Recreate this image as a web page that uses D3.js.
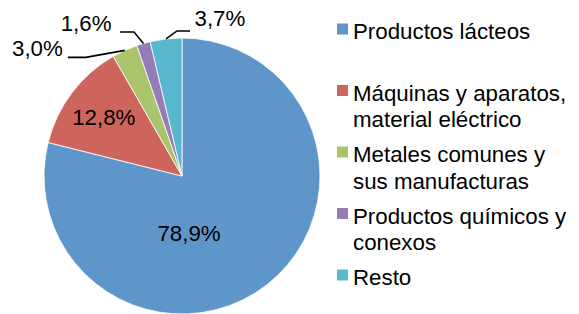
<!DOCTYPE html>
<html>
<head>
<meta charset="utf-8">
<script src="https://cdn.jsdelivr.net/npm/d3@7"></script>
<style>
  html, body { margin: 0; padding: 0; background: #fff; }
  svg { display: block; font-family: "Liberation Sans", Arial, sans-serif; }
</style>
</head>
<body>
<svg id="chart"></svg>
<script>
// data
var categories = ["Productos lácteos", "Máquinas y aparatos, material eléctrico",
  "Metales comunes y sus manufacturas", "Productos químicos y conexos", "Resto"];
var legendLines = [["Productos lácteos"], ["Máquinas y aparatos,", "material eléctrico"],
  ["Metales comunes y", "sus manufacturas"], ["Productos químicos y", "conexos"], ["Resto"]];
var shares = [78.9, 12.8, 3.0, 1.6, 3.7];
var colors = ["#5F96C9", "#CE655D", "#ABC56D", "#957CB6", "#57B8D0"];

var width = 579, height = 314,
  cx = 182, cy = 176, radius = 138,
  fontSize = 22.3;

var svg = d3.select("#chart")
  .attr("width", width)
  .attr("height", height);

var pie = d3.pie().sort(null).value(function(d) { return d; });
var arcs = pie(shares);
var arc = d3.arc().innerRadius(0).outerRadius(radius);

var g = svg.append("g").attr("transform", "translate(" + cx + "," + cy + ")");

g.selectAll("path.slice")
  .data(arcs)
  .enter()
  .append("path")
  .attr("class", "slice")
  .attr("d", arc)
  .attr("fill", function(d, i) { return colors[i]; })
  .attr("stroke", "#fff")
  .attr("stroke-width", 0.8);

function fmt(v) { return d3.format(".1f")(v).replace(".", ",") + "%"; }

// label placement: inside labels get a point on a radius fraction,
// outside labels get a leader line (elbow offset + text anchor offset)
var labelLayout = [
  { inside: true, angle: 173, r: 0.42 },
  { inside: true, r: 0.71 },
  { inside: false, elbow: [-39, 7], end: [-57, 7], text: [-62, 6], anchor: "end" },
  { inside: false, elbow: [-9.5, -11.5], end: [-23.5, -11.5], text: [-32, -12], anchor: "end" },
  { inside: false, elbow: [11, -8], end: [24, -8], text: [28.5, -13.3], anchor: "start" }
];

arcs.forEach(function(d, i) {
  var L = labelLayout[i];
  var mid = (d.startAngle + d.endAngle) / 2;
  if (L.inside) {
    var a = L.angle !== undefined ? L.angle * Math.PI / 180 : mid;
    var rr = radius * L.r;
    g.append("text")
      .attr("x", Math.sin(a) * rr)
      .attr("y", -Math.cos(a) * rr)
      .attr("dy", "0.35em")
      .attr("text-anchor", "middle")
      .attr("font-size", fontSize)
      .attr("fill", "#000")
      .text(fmt(shares[i]));
  } else {
    var px = Math.sin(mid) * radius, py = -Math.cos(mid) * radius;
    var ex = px + L.elbow[0], ey = py + L.elbow[1];
    var fx = px + L.end[0], fy = py + L.end[1];
    g.append("polyline")
      .attr("points", [[px, py], [ex, ey], [fx, fy]].map(function(p) { return p.join(","); }).join(" "))
      .attr("fill", "none")
      .attr("stroke", "#000")
      .attr("stroke-width", 1.6);
    g.append("text")
      .attr("x", px + L.text[0])
      .attr("y", py + L.text[1])
      .attr("text-anchor", L.anchor)
      .attr("font-size", fontSize)
      .attr("fill", "#000")
      .text(fmt(shares[i]));
  }
});

// legend
var legendX = 337, legendTop = 39, itemStep = 61.5, lineStep = 26.5, box = 11;

var legend = svg.append("g").attr("class", "legend");
var items = legend.selectAll("g.item")
  .data(categories)
  .enter()
  .append("g")
  .attr("class", "item")
  .attr("transform", function(d, i) { return "translate(" + legendX + "," + (legendTop + i * itemStep) + ")"; });

items.append("rect")
  .attr("x", 0)
  .attr("y", -15.5)
  .attr("width", box)
  .attr("height", box)
  .attr("fill", function(d, i) { return colors[i]; });

items.append("text")
  .attr("font-size", fontSize)
  .attr("fill", "#000")
  .selectAll("tspan")
  .data(function(d, i) { return legendLines[i]; })
  .enter()
  .append("tspan")
  .attr("x", 16)
  .attr("y", function(d, j) { return j * lineStep; })
  .text(function(d) { return d; });
</script>
</body>
</html>
